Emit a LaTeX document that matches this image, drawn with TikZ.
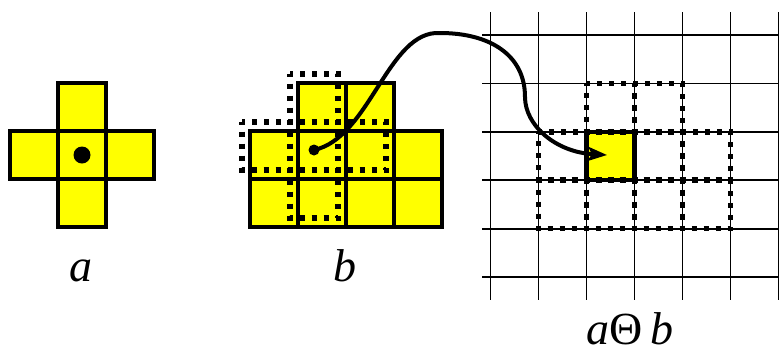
\documentclass[tikz,border=0pt]{standalone}
\usepackage{fontspec}
\setmainfont{Liberation Serif}
\usetikzlibrary{arrows.meta}
\definecolor{cellyellow}{RGB}{255,255,0}
\begin{document}
\begin{tikzpicture}[x=1pt,y=-1pt,
 cell/.style={fill=cellyellow,draw=black,line width=4.5pt},
 dotcell/.style={draw=black,line width=5.5pt,dash pattern=on 5pt off 7pt,dash phase=2.5pt},
 gridline/.style={draw=black,line width=1.8pt},
 lbl/.style={font=\fontsize{46}{50}\selectfont\itshape,anchor=base,inner sep=0pt},
 bigdot/.style={circle,fill=black,inner sep=0pt,minimum size=17pt},
 smalldot/.style={circle,fill=black,inner sep=0pt,minimum size=11pt},
 link/.style={line width=4pt,-{Stealth[length=19pt,width=14pt,inset=4pt]}}]
\useasboundingbox (0,0) rectangle (779,354);

% ---- structuring element a (cross)
\foreach \x/\y in {58/83, 10/131, 58/131, 106/131, 58/179}
  \draw[cell] (\x,\y) rectangle ++(48,48);
\node[bigdot] (adot) at (82,155) {};
\node[lbl] (la) at (81,281) {a};

% ---- set b
\foreach \x/\y in {298/83, 346/83, 250/131, 298/131, 346/131, 394/131,
                   250/179, 298/179, 346/179, 394/179}
  \draw[cell] (\x,\y) rectangle ++(48,48);
% translated cross (dotted)
\foreach \x/\y in {290/74, 242/122, 290/122, 338/122, 290/170}
  \draw[dotcell] (\x,\y) rectangle ++(48,48);
\node[smalldot] (bdot) at (314,150) {};
\node[lbl] (lb) at (345,281) {b};

% ---- result grid
\foreach \x in {490.5,538.5,586.5,634.5,682.5,730.5,778.5}
  \draw[gridline] (\x,12) -- (\x,300);
\foreach \y in {35,83.4,131.8,180.2,228.6,277}
  \draw[gridline] (482,\y) -- (779,\y);
\draw[cell] (586.5,131.8) rectangle (634.5,180.2);
\foreach \x/\y in {586.5/83.4, 634.5/83.4,
                   538.5/131.8, 586.5/131.8, 634.5/131.8, 682.5/131.8,
                   538.5/180.2, 586.5/180.2, 634.5/180.2, 682.5/180.2}
  \draw[dotcell] (\x,\y) rectangle ++(48,48.4);
\coordinate (tip) at (607,155);
\node[lbl] (lr) at (630,344) {a{\upshape Θ}\,b};

% ---- connector
\draw[link] (bdot.center) .. controls (370,138) and (388,30) .. (440,33)
  .. controls (490,33) and (525,55) .. (525,97)
  .. controls (525,125) and (555,152) .. (tip);
\end{tikzpicture}
\end{document}
